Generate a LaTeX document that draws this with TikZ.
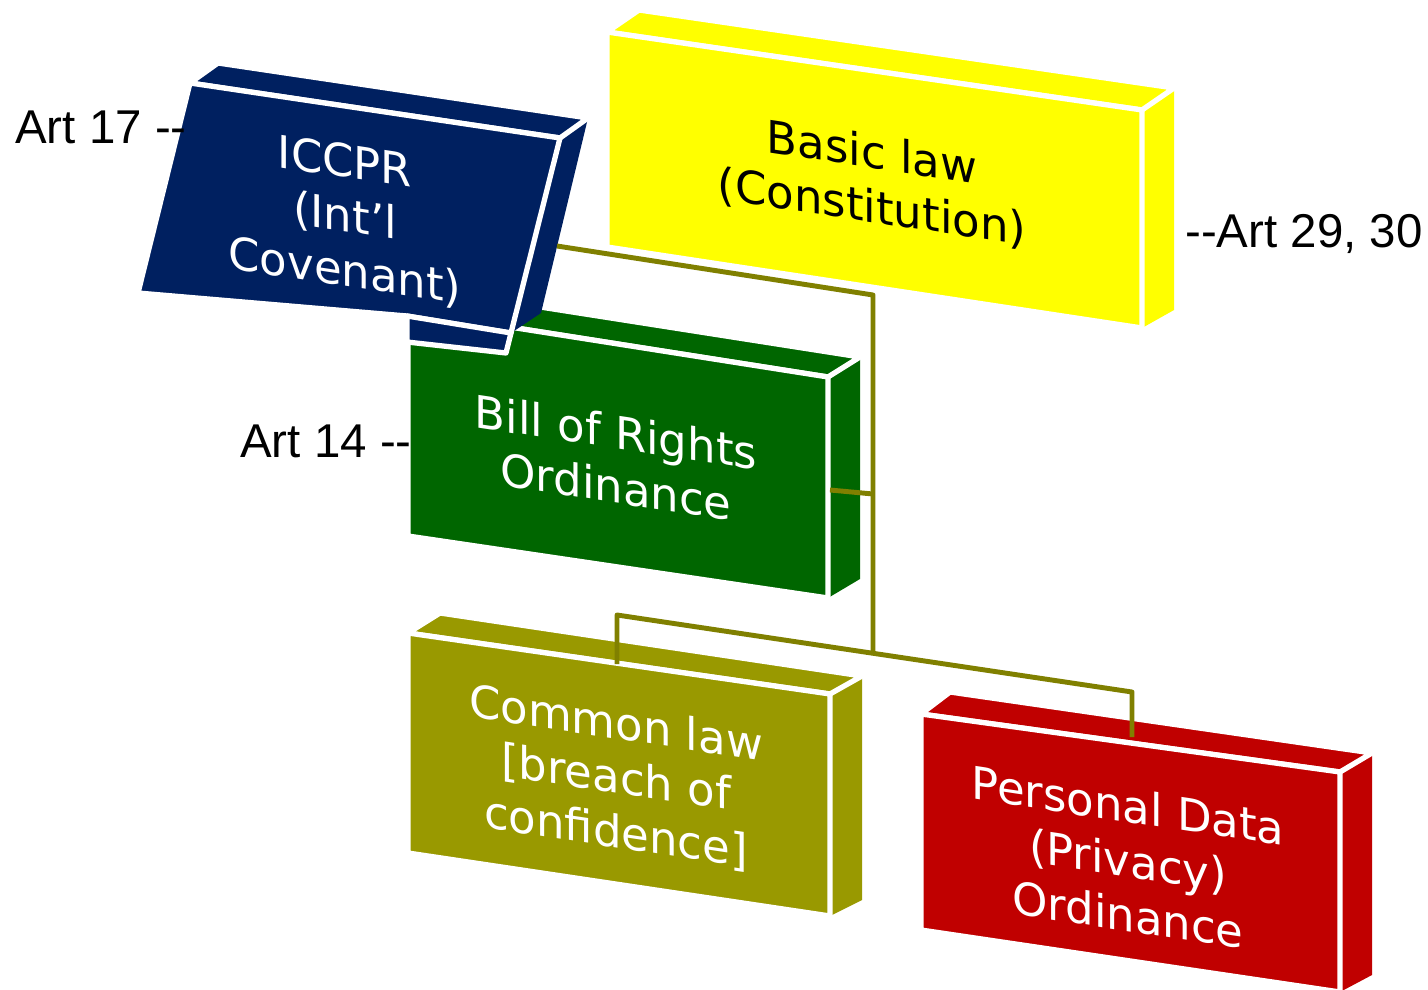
\documentclass[tikz,border=0pt]{standalone}
\usepackage{fontspec}
\setmainfont{DejaVu Sans}
\newfontfamily\labelfont{Liberation Sans}
\usepackage{tikz}

\definecolor{lawyellow}{RGB}{255,255,0}
\definecolor{covenantnavy}{RGB}{0,32,96}
\definecolor{rightsgreen}{RGB}{0,102,0}
\definecolor{commonolive}{RGB}{153,153,0}
\definecolor{privacyred}{RGB}{192,0,0}
\definecolor{linkolive}{RGB}{128,128,0}

\begin{document}
\begin{tikzpicture}[x=0.02cm, y=-0.02cm, line join=round]
    \tikzstyle{face}=[draw=white, line width=3pt]
    \tikzstyle{side}=[draw=none]
    \tikzstyle{caption}=[align=center, yslant=-0.15, font=\fontsize{25.6}{31}\selectfont]
    \tikzstyle{annot}=[anchor=base west, inner sep=0pt, font=\labelfont\fontsize{27}{32}\selectfont]
    \tikzstyle{link}=[draw=linkolive, line width=2.8pt]
    \useasboundingbox (0,0) rectangle (1428,990);

    % Basic law slab
    \path[side, fill=lawyellow] (1142,110) -- (1174,88) -- (1174,310) -- (1142,328) -- cycle;
    \path[face, fill=lawyellow] (607,32) -- (639,10) -- (1174,88) -- (1142,110) -- cycle;
    \path[face, fill=lawyellow] (607,32) -- (1142,110) -- (1142,328) -- (607,247) -- cycle;
    \node[caption] (basic) at (872,181) {Basic law\\(Constitution)};

    % Bill of Rights slab
    \path[side, fill=rightsgreen] (828,377) -- (860,357) -- (860,579) -- (828,598) -- cycle;
    \path[face, fill=rightsgreen] (408,311) -- (438,291) -- (860,357) -- (828,377) -- cycle;
    \path[face, fill=rightsgreen] (408,311) -- (828,377) -- (828,598) -- (408,536) -- cycle;
    \node[caption, text=white] (rights) at (616,459) {Bill of Rights\\Ordinance};

    % ICCPR slab, leaning over the Bill of Rights
    \path[side, fill=covenantnavy] (560,138) -- (588,118) -- (541,313) -- (511,333) -- cycle;
    \path[face, fill=covenantnavy] (190,83) -- (218,63) -- (588,118) -- (560,138) -- cycle;
    \path[face, fill=covenantnavy] (190,83) -- (560,138) -- (511,333) -- (407,316) -- (138,293) -- cycle;
    \path[face, fill=covenantnavy] (407,316) -- (511,333) -- (506,353) -- (407,342) -- cycle;
    \node[caption, text=white] (iccpr) at (345,218) {ICCPR\\(Int’l\\Covenant)};

    % Common law slab
    \path[side, fill=commonolive] (830,694) -- (862,676) -- (862,900) -- (830,916) -- cycle;
    \path[face, fill=commonolive] (408,633) -- (440,613) -- (862,676) -- (830,694) -- cycle;
    \path[face, fill=commonolive] (408,633) -- (830,694) -- (830,916) -- (408,853) -- cycle;
    \node[caption, text=white] (common) at (616,779) {Common law\\{}[breach of\\confidence]};

    % Personal Data slab
    \path[side, fill=privacyred] (1340,772) -- (1372,753) -- (1372,975) -- (1340,992) -- cycle;
    \path[face, fill=privacyred] (921,714) -- (950,692) -- (1372,753) -- (1340,772) -- cycle;
    \path[face, fill=privacyred] (921,714) -- (1340,772) -- (1340,992) -- (921,930) -- cycle;
    \node[caption, text=white] (privacy) at (1128,860) {Personal Data\\(Privacy)\\Ordinance};

    % Connector tree
    \coordinate (iccpr-out) at (557,246);
    \coordinate (hub-top) at (873,295);
    \coordinate (rights-out) at (830,490);
    \coordinate (hub-mid) at (873,494);
    \coordinate (hub-bot) at (873,652);
    \coordinate (branch-l) at (617,615);
    \coordinate (branch-r) at (1132,692);
    \coordinate (common-in) at (617,664);
    \coordinate (privacy-in) at (1132,737);
    \path[link] (iccpr-out) -- (hub-top) -- (hub-bot);
    \path[link] (rights-out) -- (hub-mid);
    \path[link] (common-in) -- (branch-l) -- (branch-r) -- (privacy-in);

    % Article references
    \node[annot] (art17) at (15,144) {Art 17 -{}-};
    \node[annot] (art14) at (240,457) {Art 14 -{}-};
    \node[annot] (art29) at (1185,248) {-{}-Art 29, 30};
\end{tikzpicture}
\end{document}
